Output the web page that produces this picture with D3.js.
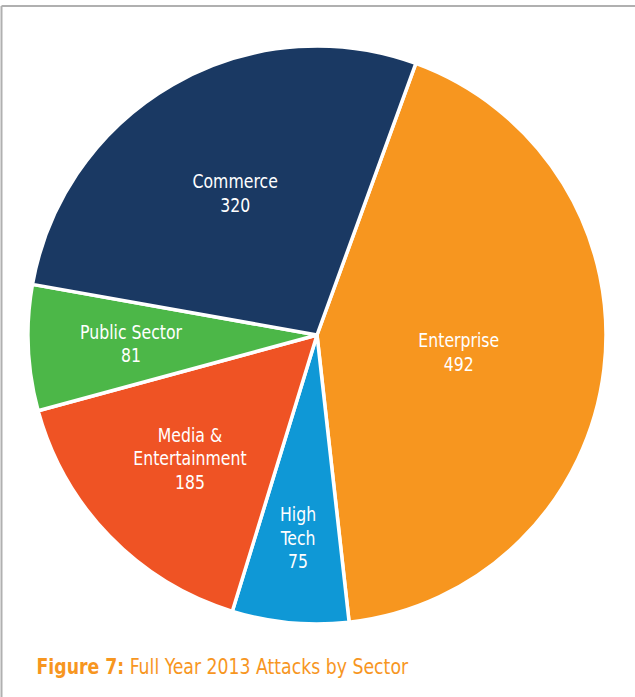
<!DOCTYPE html>
<html><head><meta charset="utf-8">
<script src="https://cdn.jsdelivr.net/npm/d3@7"></script>
<style>
html,body{margin:0;padding:0;background:#fff;}
svg{display:block;}
</style></head>
<body>
<svg id="chart" width="635" height="697"></svg>
<script>
const categories = ["Enterprise", "High Tech", "Media & Entertainment", "Public Sector", "Commerce"];
const values = [492, 75, 185, 81, 320];
const labelLines = [["Enterprise"], ["High", "Tech"], ["Media &", "Entertainment"], ["Public Sector"], ["Commerce"]];
const colors = ["#f7961f", "#0f98d6", "#ef5324", "#4cb748", "#1a3963"];
const captionBold = "Figure 7:";
const captionText = " Full Year 2013 Attacks by Sector";

const svg = d3.select("#chart");
const font = "'DejaVu Sans Condensed', 'Liberation Sans Narrow', 'Open Sans', sans-serif";

// frame
svg.append("line").attr("x1", 1.5).attr("y1", 6).attr("x2", 635).attr("y2", 6)
  .attr("stroke", "#b0b0b0").attr("stroke-width", 2);
svg.append("line").attr("x1", 1.5).attr("y1", 6).attr("x2", 1.5).attr("y2", 697)
  .attr("stroke", "#b0b0b0").attr("stroke-width", 2);

const cx = 317, cy = 335, r = 289;
const startA = 20 * Math.PI / 180;
const data = categories.map((c, i) => ({cat: c, value: values[i], lines: labelLines[i], color: colors[i]}));
const pie = d3.pie().value(d => d.value).sort(null)
  .startAngle(startA).endAngle(startA + 2 * Math.PI);
const arcs = pie(data);
const arc = d3.arc().innerRadius(0).outerRadius(r);

const g = svg.append("g").attr("transform", `translate(${cx},${cy})`);
g.selectAll("path").data(arcs).join("path")
  .attr("d", arc).attr("fill", d => d.data.color)
  .attr("stroke", "#fff").attr("stroke-width", 3.5).attr("stroke-linejoin", "round");

// label radial fractions (fraction of r where label block center sits)
const labelFrac = [0.494, 0.704, 0.612, 0.644, 0.567];
const lineH = 23.5, fs = 19, cap = 14, sx = 0.92;
arcs.forEach((a, i) => {
  const mid = (a.startAngle + a.endAngle) / 2;
  const lr = r * labelFrac[i];
  const x = Math.sin(mid) * lr, y = -Math.cos(mid) * lr;
  const lines = a.data.lines.concat([String(a.data.value)]);
  const y0 = y - (lines.length - 1) * lineH / 2 + cap / 2;
  const t = g.append("text").attr("text-anchor", "middle")
    .attr("transform", `translate(${x},${y0}) scale(${sx},1)`)
    .attr("font-family", font).attr("font-size", fs).attr("fill", "#fff");
  lines.forEach((ln, k) => {
    t.append("tspan").attr("x", 0).attr("y", k * lineH).text(ln);
  });
});

// caption
const capT = svg.append("text").attr("transform", "translate(36.5,674) scale(0.895,1)")
  .attr("font-family", font).attr("font-size", 21.5).attr("fill", "#f7961f");
capT.append("tspan").attr("font-weight", "bold").text(captionBold);
capT.append("tspan").text(captionText);
</script>
</body></html>
